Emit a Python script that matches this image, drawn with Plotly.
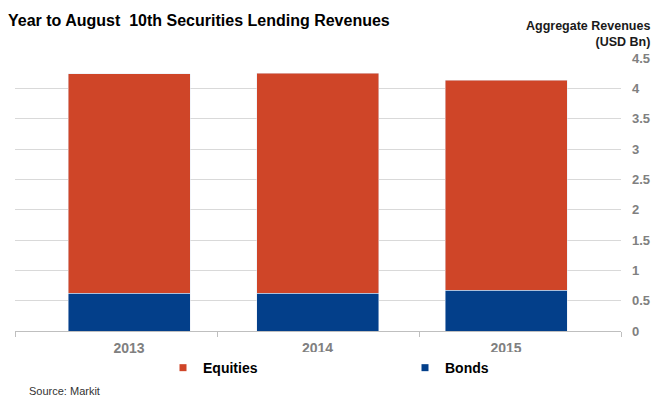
import plotly.graph_objects as go

# Year-to-date securities lending revenues (USD Bn)
years = ["2013", "2014", "2015"]
bonds = [0.62, 0.62, 0.67]
equities = [3.62, 3.63, 3.46]
y_ticks = [0, 0.5, 1, 1.5, 2, 2.5, 3, 3.5, 4, 4.5]

RED = "#cf4528"
BLUE = "#033f8a"
GREY = "#808080"
FONT = "Liberation Sans, Arial, sans-serif"

fig = go.Figure()
fig.add_trace(go.Bar(x=years, y=bonds, name="Bonds", marker_color=BLUE,
                     width=0.647, showlegend=False))
fig.add_trace(go.Bar(x=years, y=equities, name="Equities", marker_color=RED,
                     width=0.647, showlegend=False))

# compact square legend keys
fig.add_trace(go.Scatter(x=[None], y=[None], mode="markers", name="Equities",
                         marker=dict(symbol="square", size=7, color=RED)))
fig.add_trace(go.Scatter(x=[None], y=[None], mode="markers", name="Bonds",
                         marker=dict(symbol="square", size=7, color=BLUE)))

# category boundary ticks on a helper axis
fig.add_trace(go.Scatter(x=[0, 3], y=[0, 0], xaxis="x2", mode="none",
                         showlegend=False, hoverinfo="skip"))

fig.update_layout(
    width=656, height=396,
    margin=dict(l=15, r=35, t=58, b=65, autoexpand=False),
    paper_bgcolor="white", plot_bgcolor="white",
    barmode="stack",
    font=dict(family=FONT, color="#000000"),
    title=dict(text="<b>Year to August  10th Securities Lending Revenues</b>",
               font=dict(size=16, family=FONT, color="#000000"),
               xref="container", x=8 / 656, xanchor="left",
               yref="container", y=1 - 20 / 396, yanchor="middle"),
    xaxis=dict(type="category", range=[-0.605, 2.61], showgrid=False,
               showline=True, linecolor="#bfbfbf", linewidth=1, automargin=False,
               ticks="", ticklabelstandoff=4,
               tickfont=dict(size=14, color=GREY, family=FONT, weight="bold"),
               fixedrange=True),
    xaxis2=dict(overlaying="x", anchor="y", side="bottom", range=[0, 3],
                tickvals=[0, 1, 2, 3], showticklabels=False, ticks="outside",
                ticklen=5, tickcolor="#bfbfbf", showgrid=False, showline=False,
                zeroline=False, automargin=False),
    yaxis=dict(side="right", range=[0, 4.5], tickvals=y_ticks, automargin=False,
               gridcolor="#d9d9d9", gridwidth=1, zeroline=False,
               ticks="", ticklabelstandoff=10,
               tickfont=dict(size=13, color=GREY, family=FONT, weight="bold")),
    legend=dict(orientation="h", xref="paper", x=(163 - 15) / 606, xanchor="left",
                yref="paper", y=(331 - 368) / 272.5, yanchor="middle",
                entrywidth=197, entrywidthmode="pixels", itemwidth=30,
                font=dict(size=14, color="#000000", family=FONT, weight="bold"),
                traceorder="normal"),
    annotations=[
        dict(text="Aggregate Revenues<br>(USD Bn)", xref="paper", yref="paper",
             x=(652 - 15) / 606, y=(331 - 35) / 272.5, xanchor="right",
             yanchor="middle", align="right", showarrow=False,
             font=dict(size=12.5, color="#1a1a1a", family=FONT, weight="bold")),
        dict(text="Source: Markit", xref="paper", yref="paper",
             x=(27 - 15) / 606, y=(331 - 391) / 272.5, xanchor="left",
             yanchor="middle", showarrow=False,
             font=dict(size=11, color="#333333", family=FONT)),
    ],
)

fig.write_html("out.html")
